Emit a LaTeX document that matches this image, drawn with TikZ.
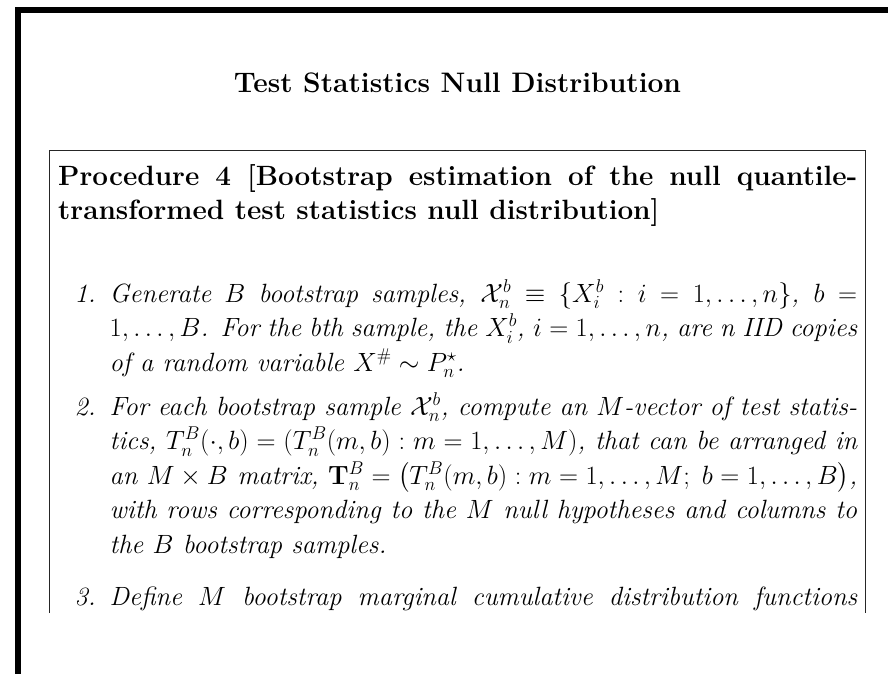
\RequirePackage{fix-cm}
\documentclass[tikz,border=0pt]{standalone}
\usepackage{amsmath}
\newcommand{\jline}[1]{\hbox to\linewidth{#1}}
\newcommand{\nline}[1]{\hbox to\linewidth{#1\hfil}}
\tikzset{
  titletext/.style={font=\fontsize{28.2}{34}\selectfont\bfseries, inner sep=0pt, anchor=base},
  headtext/.style={font=\fontsize{27.9}{34}\selectfont\bfseries, inner sep=0pt, anchor=base west},
  itemtext/.style={font=\fontsize{26.4}{34.5}\selectfont\itshape, inner sep=0pt, anchor=base west},
  itemlabel/.style={font=\fontsize{26.4}{34.5}\selectfont\itshape, inner sep=0pt, anchor=base east},
  framebar/.style={fill=black},
  boxline/.style={draw=black!85, line width=0.9pt},
}
\begin{document}
\begin{tikzpicture}[x=1pt,y=-1pt]
\useasboundingbox (0,0) rectangle (888,674);
% outer thick frame (clipped at right and bottom)
\fill[framebar] (15,6.7) rectangle (888,12.7);
\fill[framebar] (15,6.7) rectangle (21,674);
% procedure box, open at the bottom
\draw[boxline] (49.5,613) -- (49.5,150) -- (865,150) -- (865,613);
% title
\node[titletext] (title) at (457.5,93) {Test Statistics Null Distribution};
% heading
\node[headtext] (head) at (58,185) {\parbox[t]{799pt}{%
\jline{Procedure 4 [Bootstrap estimation of the null quantile-}
\nline{transformed test statistics null distribution]}}};
% item 1
\node[itemlabel] (lab1) at (96,302) {1.};
\node[itemtext] (item1) at (109.5,302) {\parbox[t]{747.5pt}{%
\jline{Generate $B$ bootstrap samples, $\mathcal{X}_n^b \equiv \{X_i^b : i = 1,\ldots,n\}$, $b =$}
\jline{$1,\ldots,B$. For the bth sample, the $X_i^b$, $i=1,\ldots,n$, are n IID copies}
\nline{of a random variable $X^{\#} \sim P_n^{\star}$.}}};
% item 2
\node[itemlabel] (lab2) at (96,415) {2.};
\node[itemtext] (item2) at (109.5,415) {\parbox[t]{747.5pt}{%
\jline{For each bootstrap sample $\mathcal{X}_n^b$, compute an $M$-vector of test statis-}
\jline{tics, $T_n^B(\cdot,b) = (T_n^B(m,b) : m = 1,\ldots,M)$, that can be arranged in}
\jline{an $M\times B$ matrix, $\mathbf{T}_n^B = \bigl(T_n^B(m,b) : m = 1,\ldots,M;\; b = 1,\ldots,B\bigr)$,}
\jline{with rows corresponding to the $M$ null hypotheses and columns to}
\nline{the $B$ bootstrap samples.}}};
% item 3
\node[itemlabel] (lab3) at (96,605) {3.};
\node[itemtext] (item3) at (109.5,605) {\parbox[t]{747.5pt}{%
\jline{Define $M$ bootstrap marginal cumulative distribution functions}}};
\end{tikzpicture}
\end{document}
